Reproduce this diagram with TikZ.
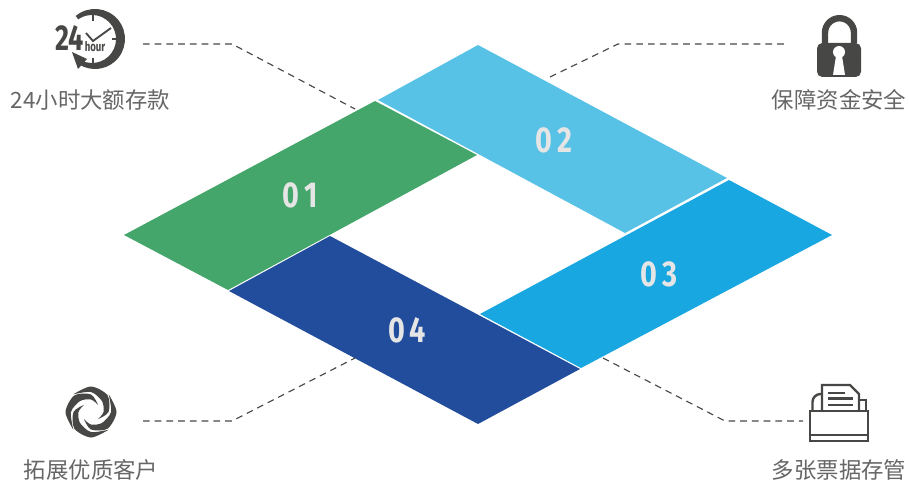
\documentclass[tikz,border=0pt]{standalone}
\usepackage{fontspec}
\newfontfamily\cjk{Noto Sans CJK SC}
\newfontfamily\num{Fira Sans}
\definecolor{ink}{HTML}{474845}
\definecolor{lab}{HTML}{666666}
\definecolor{cA}{HTML}{45A66B}
\definecolor{cB}{HTML}{58C2E6}
\definecolor{cC}{HTML}{18A7E0}
\definecolor{cD}{HTML}{214D9C}
\newcommand{\dig}[2]{\scalebox{.8}[1]{#1\hspace{4.5pt}#2}}
\tikzset{
 x=0.75pt,y=-0.75pt,
 tile/.style={draw=none},
 numlab/.style={text=white!90!black,font=\num\bfseries\fontsize{27}{27}\selectfont},
 caption/.style={text=lab,font=\cjk\fontsize{16.8}{18}\selectfont,inner sep=0pt},
 leader/.style={draw=ink,line width=0.85pt,dash pattern=on 5pt off 3.8pt}
}
\begin{document}
\begin{tikzpicture}
\useasboundingbox (0,0) rectangle (909,481);
\fill[white] (0,0) rectangle (909,481);
% tiles
\fill[tile,cA] (124,235)--(375,101)--(477,155)--(228,290)--cycle;
\fill[tile,cB] (378,100)--(478,45)--(727,178)--(625,233)--cycle;
\fill[tile,cC] (729,180)--(832,235)--(581,368)--(480,314)--cycle;
\fill[tile,cD] (229,291)--(330,236)--(580,369)--(478,424)--cycle;
\node[numlab] (n1) at (300.5,195.5) {\dig{0}{1}};
\node[numlab] (n2) at (554,140) {\dig{0}{2}};
\node[numlab] (n3) at (659,274) {\dig{0}{3}};
\node[numlab] (n4) at (407,330) {\dig{0}{4}};
% leaders
\coordinate (a1) at (143,44); \coordinate (a2) at (232,44); \coordinate (a3) at (355,109);
\coordinate (b1) at (550,77); \coordinate (b2) at (618,44); \coordinate (b3) at (785,44);
\coordinate (c1) at (143,421); \coordinate (c2) at (232,421); \coordinate (c3) at (355,358);
\coordinate (d1) at (603,358); \coordinate (d2) at (725,421); \coordinate (d3) at (803,421);
\draw[leader] (a1)--(a2)--(a3);
\draw[leader] (b1)--(b2)--(b3);
\draw[leader] (c1)--(c2)--(c3);
\draw[leader] (d1)--(d2)--(d3);
% captions
\node[caption] (t1) at (90.5,100) {24小时大额存款};
\node[caption] (t2) at (839,100) {保障资金安全};
\node[caption] (t3) at (91,470) {拓展优质客户};
\node[caption] (t4) at (839,470) {多张票据存管};
% clock icon
\fill[ink] (75.7,16) arc[start angle=-130,end angle=120,radius=30] -- (81.9,60.75) arc[start angle=115,end angle=-125,radius=24] -- cycle;
\fill[ink] (72,52)--(87,59)--(78,69)--cycle;
\draw[ink,line width=1.2pt] (93,14)--(93,21) (93,58)--(93,64) (112,39)--(118,39);
\draw[ink,line width=1.4pt] (86,33)--(93,41)--(111,28);
\node[inner sep=0pt,text=ink,font=\num\bfseries\fontsize{27}{27}\selectfont] (c24) at (69.5,38) {\scalebox{.75}[1]{24}};
\node[inner sep=0pt,text=ink,font=\num\bfseries\fontsize{10}{10}\selectfont] (chour) at (95,47) {\scalebox{.72}[1]{hour}};
% lock icon
\draw[ink,line width=4.8pt] (825,43)--(825,32.7) arc[start angle=180,end angle=360,radius=14.5]--(854,43);
\fill[ink,rounded corners=4pt] (817,43) rectangle (861,77);
\fill[white] (836,56)--(833,75)--(845,75)--(842,56)--cycle;
\fill[white] (839,52) circle[radius=6];
% swirl icon
\foreach \r in {0,90,180,270}{
 \begin{scope}[shift={(91,412)},rotate=\r]
 \fill[ink] plot[smooth] coordinates {(-135:25) (-90:25.5) (-45:23.5) (0:17.5) (45:10)}
   -- plot[smooth] coordinates {(45:10) (0:12.5) (-45:15.5) (-90:20) (-135:25)} -- cycle;
 \end{scope}}
% printer icon
\begin{scope}[ink,line width=1.8pt]
\draw (810,411) rectangle (868,441);
\draw (810,435)--(868,435);
\draw (812.5,411)--(812.5,402) arc[start angle=180,end angle=270,radius=8]--(822,394);
\draw (859,400)--(866,400)--(866,411);
\draw (822,411)--(822,385)--(850,385)--(859,394)--(859,411);
\draw (828,393)--(845,393) (828,398.5)--(853,398.5) (828,405)--(853,405);
\end{scope}
\end{tikzpicture}
\end{document}
